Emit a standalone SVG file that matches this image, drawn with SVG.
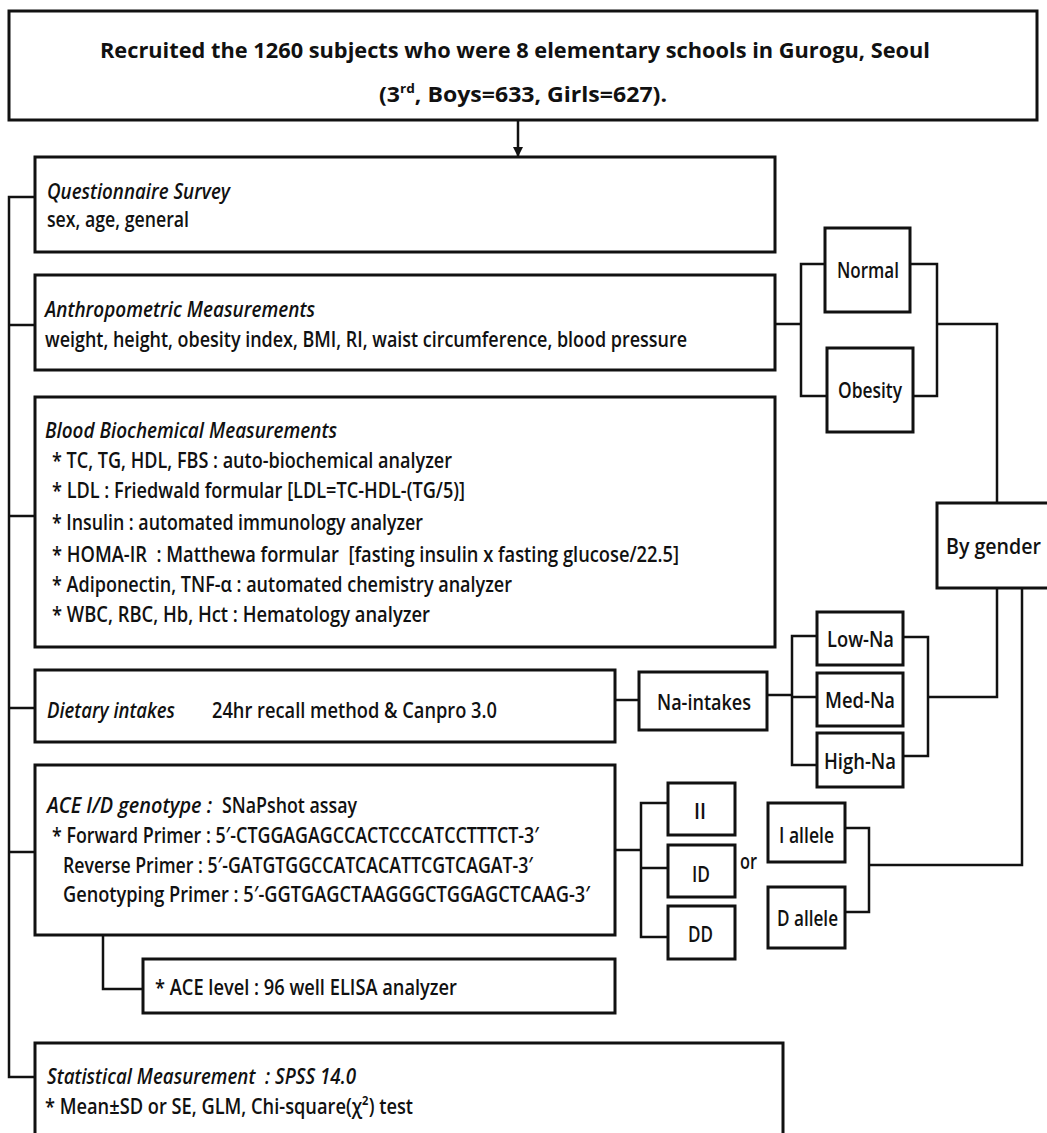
<svg xmlns="http://www.w3.org/2000/svg" width="1047" height="1133" viewBox="0 0 1047 1133">
<style>
.box{fill:#fff;stroke:#111;stroke-width:3}
.ln{fill:none;stroke:#111;stroke-width:2.5}
.t{font-family:"Open Sans","Noto Sans","Liberation Sans",sans-serif;font-size:21px;font-weight:600;fill:#111}
.i{font-style:italic}
.b{font-weight:700;font-size:22px}
</style>
<defs>
<marker id="arr" markerUnits="userSpaceOnUse" markerWidth="10" markerHeight="10" refX="10" refY="5" orient="auto">
<path d="M0,0 L10,5 L0,10 z" fill="#111"/>
</marker>
</defs>
<rect width="1047" height="1133" fill="#fff"/>
<g id="connectors">
<path class="ln" d="M518 120 V157" marker-end="url(#arr)"/>
<path class="ln" d="M35 197 H9 V1077 H35 M9 325 H35 M9 516 H35 M9 708 H35 M9 852 H35"/>
<path class="ln" d="M776 324 H801 M826 264 H801 V396 H827"/>
<path class="ln" d="M910 264 H937 V396 H913 M937 324 H997 V503"/>
<path class="ln" d="M615 700 H639"/>
<path class="ln" d="M767 695 H792 M817 636 H792 V765 H817 M792 697 H817"/>
<path class="ln" d="M903 637 H928 V756 H903 M928 697 H997 V588"/>
<path class="ln" d="M615 850 H641 M668 803 H641 V937 H668 M641 868 H668"/>
<path class="ln" d="M845 828 H869 V912 H845 M869 865 H1022 V588"/>
<path class="ln" d="M103 935 V989 H143"/>
</g>
<g id="recruit">
<rect class="box" x="9" y="11" width="1028" height="109"/>
<text class="t b" x="100" y="58" textLength="830" lengthAdjust="spacingAndGlyphs">Recruited the 1260 subjects who were 8 elementary schools in Gurogu, Seoul</text>
<text class="t b" x="379" y="102" textLength="288" lengthAdjust="spacingAndGlyphs">(3<tspan font-size="13" dy="-9">rd</tspan><tspan dy="9">, Boys=633, Girls=627).</tspan></text>
</g>
<g id="questionnaire">
<rect class="box" x="35" y="157" width="740" height="95"/>
<text class="t i" x="47" y="199" textLength="183" lengthAdjust="spacingAndGlyphs">Questionnaire Survey</text>
<text class="t" x="47" y="227" textLength="142" lengthAdjust="spacingAndGlyphs">sex, age, general</text>
</g>
<g id="anthropometric">
<rect class="box" x="35" y="275" width="740" height="95"/>
<text class="t i" x="45" y="317" textLength="270" lengthAdjust="spacingAndGlyphs">Anthropometric Measurements</text>
<text class="t" x="45" y="347" textLength="642" lengthAdjust="spacingAndGlyphs">weight, height, obesity index, BMI, RI, waist circumference, blood pressure</text>
</g>
<g id="blood">
<rect class="box" x="35" y="397" width="740" height="250"/>
<text class="t i" x="45" y="438" textLength="292" lengthAdjust="spacingAndGlyphs">Blood Biochemical Measurements</text>
<text class="t" x="52" y="468" textLength="400" lengthAdjust="spacingAndGlyphs">* TC, TG, HDL, FBS : auto-biochemical analyzer</text>
<text class="t" x="52" y="498" textLength="413" lengthAdjust="spacingAndGlyphs">* LDL : Friedwald formular [LDL=TC-HDL-(TG/5)]</text>
<text class="t" x="52" y="530" textLength="371" lengthAdjust="spacingAndGlyphs">* Insulin : automated immunology analyzer</text>
<text class="t" x="52" y="562" textLength="627" lengthAdjust="spacingAndGlyphs" xml:space="preserve">* HOMA-IR  : Matthewa formular  [fasting insulin x fasting glucose/22.5]</text>
<text class="t" x="52" y="592" textLength="460" lengthAdjust="spacingAndGlyphs">* Adiponectin, TNF-α : automated chemistry analyzer</text>
<text class="t" x="52" y="622" textLength="378" lengthAdjust="spacingAndGlyphs">* WBC, RBC, Hb, Hct : Hematology analyzer</text>
</g>
<g id="dietary">
<rect class="box" x="35" y="670" width="580" height="72"/>
<text class="t i" x="47" y="718" textLength="128" lengthAdjust="spacingAndGlyphs">Dietary intakes</text>
<text class="t" x="212" y="718" textLength="285" lengthAdjust="spacingAndGlyphs">24hr recall method &amp; Canpro 3.0</text>
</g>
<g id="ace">
<rect class="box" x="35" y="765" width="580" height="170"/>
<text class="t i" x="47" y="813" textLength="165" lengthAdjust="spacingAndGlyphs">ACE I/D genotype :</text>
<text class="t" x="222" y="813" textLength="135" lengthAdjust="spacingAndGlyphs">SNaPshot assay</text>
<text class="t" x="52" y="843" textLength="487" lengthAdjust="spacingAndGlyphs">* Forward Primer : 5′-CTGGAGAGCCACTCCCATCCTTTCT-3′</text>
<text class="t" x="63" y="873" textLength="470" lengthAdjust="spacingAndGlyphs">Reverse Primer : 5′-GATGTGGCCATCACATTCGTCAGAT-3′</text>
<text class="t" x="63" y="902" textLength="527" lengthAdjust="spacingAndGlyphs">Genotyping Primer : 5′-GGTGAGCTAAGGGCTGGAGCTCAAG-3′</text>
</g>
<g id="ace-level">
<rect class="box" x="143" y="959" width="472" height="54"/>
<text class="t" x="155" y="995" textLength="302" lengthAdjust="spacingAndGlyphs">* ACE level : 96 well ELISA analyzer</text>
</g>
<g id="statistical">
<rect class="box" x="35" y="1043" width="748" height="100"/>
<text class="t i" x="47" y="1084" textLength="309" lengthAdjust="spacingAndGlyphs" xml:space="preserve">Statistical Measurement  : SPSS 14.0</text>
<text class="t" x="45" y="1114" textLength="368" lengthAdjust="spacingAndGlyphs">* Mean±SD or SE, GLM, Chi-square(χ²) test</text>
</g>
<g id="normal">
<rect class="box" x="825" y="228" width="85" height="84"/>
<text class="t" x="837" y="278" textLength="62" lengthAdjust="spacingAndGlyphs">Normal</text>
</g>
<g id="obesity">
<rect class="box" x="827" y="348" width="86" height="84"/>
<text class="t" x="838" y="398" textLength="64" lengthAdjust="spacingAndGlyphs">Obesity</text>
</g>
<g id="by-gender">
<rect class="box" x="937" y="503" width="130" height="85"/>
<text class="t" x="946" y="554" textLength="95" lengthAdjust="spacingAndGlyphs">By gender</text>
</g>
<g id="na-intakes">
<rect class="box" x="639" y="672" width="128" height="58"/>
<text class="t" x="657" y="710" textLength="94" lengthAdjust="spacingAndGlyphs">Na-intakes</text>
</g>
<g id="low-na">
<rect class="box" x="817" y="612" width="86" height="53"/>
<text class="t" x="827" y="647" textLength="67" lengthAdjust="spacingAndGlyphs">Low-Na</text>
</g>
<g id="med-na">
<rect class="box" x="817" y="673" width="86" height="53"/>
<text class="t" x="825" y="708" textLength="70" lengthAdjust="spacingAndGlyphs">Med-Na</text>
</g>
<g id="high-na">
<rect class="box" x="817" y="733" width="86" height="54"/>
<text class="t" x="824" y="769" textLength="72" lengthAdjust="spacingAndGlyphs">High-Na</text>
</g>
<g id="ii">
<rect class="box" x="668" y="783" width="67" height="52"/>
<text class="t" x="694" y="819" textLength="12" lengthAdjust="spacingAndGlyphs">II</text>
</g>
<g id="id">
<rect class="box" x="668" y="845" width="67" height="52"/>
<text class="t" x="692" y="882" textLength="18" lengthAdjust="spacingAndGlyphs">ID</text>
</g>
<g id="dd">
<rect class="box" x="668" y="906" width="67" height="53"/>
<text class="t" x="688" y="942" textLength="25" lengthAdjust="spacingAndGlyphs">DD</text>
</g>
<text id="or" class="t" x="740" y="869" textLength="17" lengthAdjust="spacingAndGlyphs">or</text>
<g id="i-allele">
<rect class="box" x="768" y="803" width="77" height="59"/>
<text class="t" x="779" y="843" textLength="55" lengthAdjust="spacingAndGlyphs">I allele</text>
</g>
<g id="d-allele">
<rect class="box" x="768" y="887" width="77" height="61"/>
<text class="t" x="777" y="926" textLength="61" lengthAdjust="spacingAndGlyphs">D allele</text>
</g>
</svg>
